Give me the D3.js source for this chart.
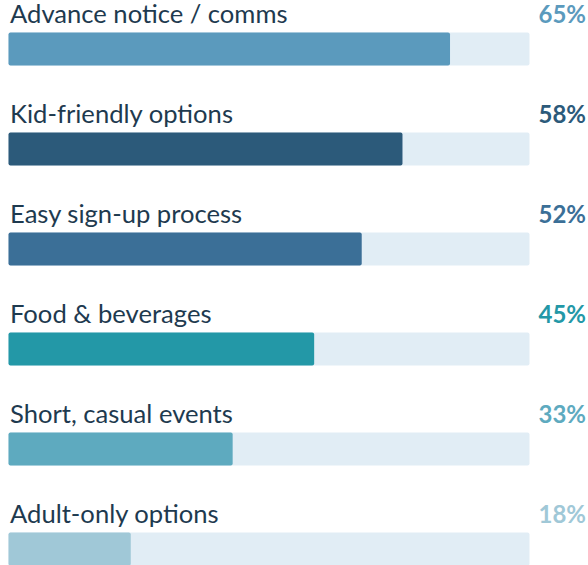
<!DOCTYPE html>
<html>
<head>
<meta charset="utf-8">
<script src="https://cdn.jsdelivr.net/npm/d3@7"></script>
<style>
  body { margin: 0; background: #fff; }
  svg { display: block; font-family: Lato, "Open Sans", sans-serif; }
</style>
</head>
<body>
<div id="chart-area"></div>
<script>
// data
const labels = ["Advance notice / comms", "Kid-friendly options", "Easy sign-up process",
  "Food & beverages", "Short, casual events", "Adult-only options"]
const values = [65, 58, 52, 45, 33, 18]
const colors = ["#5b9abd", "#2c5a7a", "#3b6f97", "#2398a7", "#5eaabf", "#a0c8d7"]

const WIDTH = 588
const HEIGHT = 565
const ROW = 100
const BAR_X = 8.5
const BAR_W = 521
const BAR_H = 33

const svg = d3.select("#chart-area").append("svg")
  .attr("width", WIDTH)
  .attr("height", HEIGHT)

// scales
const x = d3.scaleLinear()
  .domain([0, d3.max(values) * 1.18])
  .range([0, BAR_W])

const y = d3.scaleBand()
  .domain(labels)
  .range([0, ROW * labels.length])

const rows = svg.selectAll("g.row")
  .data(labels)
  .enter().append("g")
  .attr("class", "row")
  .attr("transform", d => `translate(0, ${y(d)})`)

// background track
rows.append("rect")
  .attr("x", BAR_X)
  .attr("y", 32.5)
  .attr("width", BAR_W)
  .attr("height", BAR_H)
  .attr("rx", 2)
  .attr("fill", "#e1edf5")

// value bar
rows.append("rect")
  .attr("x", BAR_X)
  .attr("y", 32.5)
  .attr("width", (d, i) => x(values[i]))
  .attr("height", BAR_H)
  .attr("rx", 2)
  .attr("fill", (d, i) => colors[i])

// category label
rows.append("text")
  .attr("x", 10)
  .attr("y", 23)
  .attr("font-size", "25.6px")
  .attr("fill", "#1e3a4f")
  .text(d => d)

// percent label
rows.append("text")
  .attr("x", 586)
  .attr("y", 23)
  .attr("text-anchor", "end")
  .attr("font-size", "24px")
  .attr("font-weight", "bold")
  .attr("fill", (d, i) => colors[i])
  .text((d, i) => values[i] + "%")
</script>
</body>
</html>
